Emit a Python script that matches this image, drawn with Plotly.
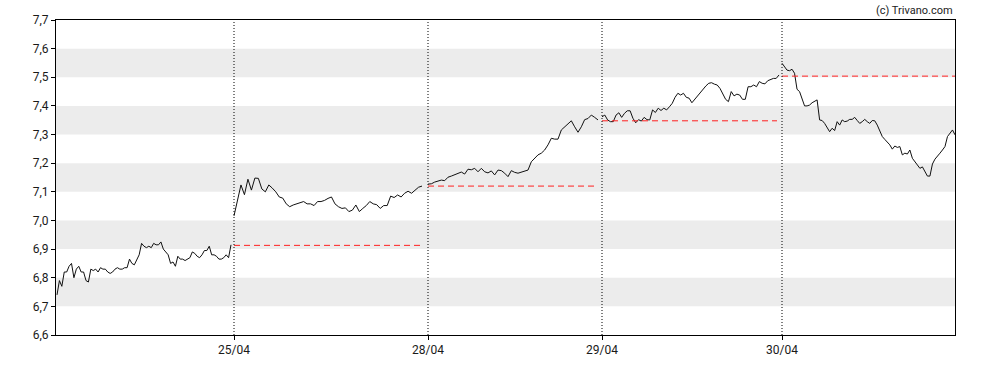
import plotly.graph_objects as go

# ---- data ----
day_labels = ["24/04", "25/04", "28/04", "29/04", "30/04"]
# session start / end positions on the horizontal time scale (per day)
session_start = [1, 178, 372, 546, 726]
session_end = [175, 366, 542, 723, 899]

day1 = [6.74, 6.79, 6.77, 6.82, 6.82, 6.84, 6.85, 6.80, 6.83, 6.84, 6.82, 6.82, 6.79, 6.785,
        6.83, 6.825, 6.83, 6.82, 6.835, 6.83, 6.83, 6.82, 6.815, 6.82, 6.83, 6.835, 6.83, 6.83,
        6.835, 6.835, 6.865, 6.85, 6.845, 6.86, 6.88, 6.92, 6.91, 6.905, 6.91, 6.905, 6.92,
        6.915, 6.915, 6.925, 6.90, 6.89, 6.88, 6.85, 6.855, 6.84, 6.875, 6.865, 6.865, 6.86,
        6.865, 6.87, 6.89, 6.885, 6.875, 6.87, 6.88, 6.895, 6.895, 6.91, 6.88, 6.88, 6.875,
        6.865, 6.865, 6.87, 6.88, 6.87, 6.915]
day2 = [7.016, 7.07, 7.124, 7.09, 7.144, 7.106, 7.148, 7.147, 7.11, 7.10, 7.124, 7.113, 7.10,
        7.082, 7.078, 7.058, 7.048, 7.054, 7.058, 7.062, 7.066, 7.058, 7.058, 7.052, 7.066,
        7.066, 7.07, 7.077, 7.082, 7.058, 7.048, 7.042, 7.044, 7.031, 7.036, 7.054, 7.031,
        7.042, 7.052, 7.066, 7.058, 7.055, 7.042, 7.052, 7.052, 7.085, 7.08, 7.089, 7.082,
        7.095, 7.102, 7.095, 7.106, 7.116, 7.12]
day3 = [7.127, 7.128, 7.134, 7.138, 7.141, 7.139, 7.151, 7.155, 7.160, 7.164, 7.169, 7.162,
        7.179, 7.177, 7.182, 7.17, 7.182, 7.17, 7.166, 7.173, 7.159, 7.176, 7.174, 7.165,
        7.153, 7.174, 7.168, 7.165, 7.169, 7.174, 7.176, 7.205, 7.217, 7.229, 7.235, 7.246,
        7.264, 7.287, 7.284, 7.284, 7.316, 7.327, 7.337, 7.348, 7.327, 7.308, 7.327, 7.352,
        7.356, 7.368, 7.36, 7.351]
day4 = [7.362, 7.368, 7.351, 7.345, 7.345, 7.368, 7.376, 7.36, 7.374, 7.383, 7.383, 7.357,
        7.341, 7.352, 7.347, 7.36, 7.352, 7.351, 7.386, 7.377, 7.392, 7.384, 7.392, 7.386,
        7.397, 7.409, 7.430, 7.444, 7.438, 7.444, 7.43, 7.427, 7.411, 7.423, 7.438, 7.45,
        7.458, 7.47, 7.479, 7.481, 7.476, 7.473, 7.461, 7.444, 7.423, 7.415, 7.45, 7.435,
        7.441, 7.438, 7.423, 7.423, 7.467, 7.467, 7.473, 7.467, 7.485, 7.479, 7.477, 7.488,
        7.493, 7.496, 7.496, 7.508]
day5 = [7.549, 7.535, 7.525, 7.523, 7.528, 7.514, 7.458, 7.45, 7.421, 7.40, 7.40, 7.403,
        7.411, 7.417, 7.421, 7.351, 7.349, 7.339, 7.322, 7.31, 7.322, 7.314, 7.345, 7.333,
        7.351, 7.345, 7.347, 7.353, 7.353, 7.36, 7.349, 7.339, 7.345, 7.353, 7.345, 7.339,
        7.349, 7.348, 7.333, 7.31, 7.293, 7.283, 7.275, 7.264, 7.249, 7.26, 7.255, 7.258,
        7.229, 7.235, 7.232, 7.246, 7.217, 7.205, 7.19, 7.182, 7.187, 7.17, 7.155, 7.155,
        7.197, 7.214, 7.223, 7.235, 7.246, 7.258, 7.293, 7.306, 7.316, 7.299]
days = [day1, day2, day3, day4, day5]

# previous close reference levels (shown from day 2 onward)
prev_close = [None, 6.913, 7.12, 7.348, 7.504]
prev_close_end = [None, 366, 542, 721, 899]

y_ticks = [6.6, 6.7, 6.8, 6.9, 7.0, 7.1, 7.2, 7.3, 7.4, 7.5, 7.6, 7.7]
band_lows = [6.7, 6.9, 7.1, 7.3, 7.5]

# ---- figure ----
fig = go.Figure()

xs, ys = [], []
for i, vals in enumerate(days):
    n = len(vals)
    s, e = session_start[i], session_end[i]
    px = [s + (e - s) * j / (n - 1) for j in range(n)]
    xs += px + [None]
    ys += vals + [None]

fig.add_trace(go.Scatter(x=xs, y=ys, mode="lines",
                         line=dict(color="#111111", width=1), connectgaps=False,
                         hoverinfo="skip"))

for i in range(1, 5):
    fig.add_trace(go.Scatter(x=[session_start[i], prev_close_end[i]],
                             y=[prev_close[i], prev_close[i]], mode="lines",
                             line=dict(color="#ff2020", width=1, dash="6px,4px"),
                             hoverinfo="skip"))

shapes = []
for lo in band_lows:
    shapes.append(dict(type="rect", xref="paper", yref="y", x0=0, x1=1, y0=lo, y1=lo + 0.1,
                       fillcolor="#ececec", line=dict(width=0), layer="below"))
for i in range(1, 5):
    shapes.append(dict(type="line", xref="x", yref="paper", x0=session_start[i],
                       x1=session_start[i], y0=0, y1=1,
                       line=dict(color="#000000", width=1, dash="1px,2px"), layer="above"))

fig.update_layout(
    width=988, height=370,
    margin=dict(l=56, r=33, t=20, b=35, autoexpand=False),
    paper_bgcolor="white", plot_bgcolor="white",
    showlegend=False,
    shapes=shapes,
    font=dict(family="Roboto, Arial, sans-serif", size=12, color="#1a1a1a"),
    xaxis=dict(range=[0, 899], tickmode="array", tickvals=session_start[1:],
               ticktext=day_labels[1:], ticks="outside", ticklen=4, tickcolor="#000",
               showgrid=False, zeroline=False, showline=True, linecolor="#000",
               linewidth=1, mirror=True, fixedrange=True, automargin=False),
    yaxis=dict(range=[6.6, 7.7], tickmode="array", tickvals=y_ticks,
               ticktext=[f"{v:.1f}".replace(".", ",") for v in y_ticks],
               ticks="outside", ticklen=4, tickcolor="#000",
               showgrid=False, zeroline=False, showline=True, linecolor="#000",
               linewidth=1, mirror=True, fixedrange=True, automargin=False),
    annotations=[dict(text="(c) Trivano.com", xref="paper", yref="paper", x=1, y=1,
                      xanchor="right", yanchor="bottom", yshift=1, showarrow=False,
                      font=dict(size=11, color="#222"))],
)

# remove the default page margin so the figure sits at the window's top-left corner
fig.write_html("out.html", config={"displayModeBar": False},
               post_script="document.body.style.margin='0';")
